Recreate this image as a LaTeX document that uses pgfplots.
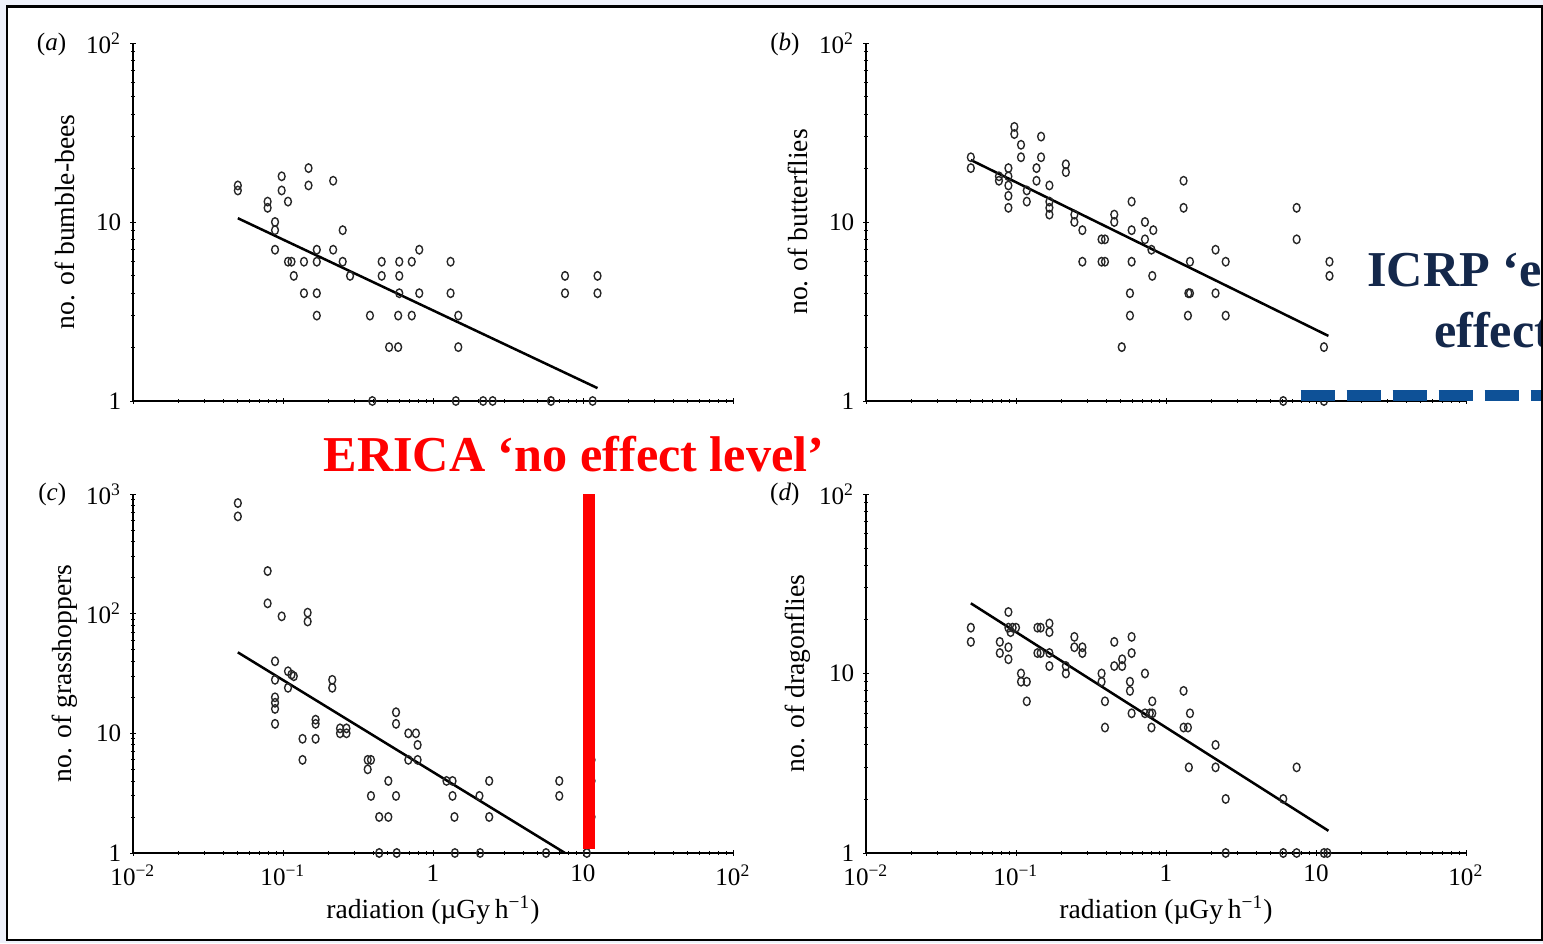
\documentclass[border=0pt]{standalone}
\usepackage{fontspec}
\setmainfont{Liberation Serif}
\usepackage{pgfplots}
\pgfplotsset{compat=1.18}
\definecolor{bgl}{RGB}{238,241,250}
\definecolor{icrpnavy}{RGB}{20,40,75}
\definecolor{icrpblue}{RGB}{14,81,151}
\pgfplotsset{
  mypanel/.style={
    scale only axis, width=8.4cm,
    xmin=0.01, xmax=100, ymin=1,
    axis lines=left, axis line style={-, black, line width=0.5pt},
    clip=false,
    tick style={black, line width=0.35pt},
    major tick length=0.08cm, minor tick length=0.045cm,
    tick align=center,
    xtick={0.01,0.1,1,10,100},
    ticklabel style={font=\fontsize{10}{12}\selectfont},
    label style={font=\fontsize{11}{13}\selectfont},
    ylabel style={at={(axis description cs:-0.114,0.5)}, anchor=center},
    xlabel style={at={(axis description cs:0.5,-0.159)}, anchor=center},
  },
}
\tikzset{
  mypts/.style={only marks, mark=o, mark size=1.7pt, mark options={xscale=0.8, black!85, line width=0.55pt}},
  myfit/.style={black, line width=1pt},
}
\begin{document}
\begin{tikzpicture}
\begin{scope}[x=0.014cm, y=0.014cm]
\fill[bgl] (0,0) rectangle (1543,943);
\draw[black, line width=0.04cm, fill=white] (7,3) rectangle (1542,936);
\end{scope}

% (a)
\begin{loglogaxis}[mypanel, at={(1.862cm,7.588cm)}, anchor=south west, height=5.012cm, ymax=100,
  xticklabels={,,,,}, ytick={1,10,100}, yticklabels={1,10,10\textsuperscript{2}},
  ylabel={no. of bumble-bees}]
\addplot[mypts] coordinates {(0.05,16)(0.05,15)(0.098,18)(0.148,20)(0.216,17)(0.098,15)(0.148,16)(0.079,13)(0.079,12)(0.108,13)(0.0885,10)(0.0885,9)(0.25,9)(0.0885,7)(0.168,7)(0.216,7)(0.81,7)(0.108,6)(0.114,6)(0.138,6)(0.168,6)(0.25,6)(0.455,6)(0.596,6)(0.722,6)(1.31,6)(0.118,5)(0.28,5)(0.455,5)(0.596,5)(7.59,5)(12.5,5)(0.138,4)(0.168,4)(0.596,4)(0.81,4)(1.31,4)(7.59,4)(12.5,4)(0.168,3)(0.38,3)(0.586,3)(0.722,3)(1.475,3)(0.51,2)(0.586,2)(1.475,2)
(0.394,1)(1.42,1)(2.16,1)(2.5,1)(6.12,1)(11.6,1)};
\addplot[myfit, no marks] coordinates {(0.05,10.5)(12.5,1.18)};
\end{loglogaxis}

% (b)
\begin{loglogaxis}[mypanel, at={(12.124cm,7.588cm)}, anchor=south west, height=5.012cm, ymax=100,
  xticklabels={,,,,}, ytick={1,10,100}, yticklabels={1,10,10\textsuperscript{2}},
  ylabel={no. of butterflies}]
\addplot[mypts] coordinates {(0.05,23)(0.05,20)(0.0975,34)(0.0975,31)(0.108,27)(0.108,23)(0.147,30)(0.147,23)(0.089,20)(0.089,18)(0.077,18)(0.077,17)(0.089,16)(0.089,14)(0.089,12)(0.137,20)(0.137,17)(0.118,15)(0.118,13)(0.167,16)(0.167,13)(0.167,12)(0.167,11)(0.215,21)(0.215,19)(0.245,11)(0.245,10)(0.277,9)(0.372,8)(0.392,8)(0.277,6)(0.372,6)(0.392,6)(0.452,11)(0.452,10)(0.59,13)(0.59,9)(0.59,6)(0.724,10)(0.724,8)(0.823,9)(0.80,7)(0.81,5)(0.575,4)(0.575,3)(0.507,2)(1.31,17)(1.31,12)(1.445,6)(1.41,4)(1.445,4)(1.40,3)(2.14,7)(2.14,4)(2.5,6)(2.5,3)(7.43,12)(7.43,8)(12.3,6)(12.3,5)(11.3,2)
(6.05,1)(11.3,1)};
\addplot[myfit, no marks] coordinates {(0.05,22.2)(12.1,2.31)};
\coordinate (db1) at (axis cs:7.9,1.08);
\coordinate (db2) at (axis cs:3000,1.08);
\end{loglogaxis}
\draw[icrpblue, line width=0.154cm, dash pattern=on 0.476cm off 0.168cm] (db1) -- (db2);

% (c)
\begin{loglogaxis}[mypanel, at={(1.862cm,1.26cm)}, anchor=south west, height=5.026cm, ymax=1000,
  xticklabels={10\textsuperscript{−2},10\textsuperscript{−1},1,10,10\textsuperscript{2}},
  ytick={1,10,100,1000}, yticklabels={1,10,10\textsuperscript{2},10\textsuperscript{3}},
  ylabel={no. of grasshoppers}, xlabel={radiation (µGy\,h\textsuperscript{−1})}]
\addplot[mypts] coordinates {(0.05,840)(0.05,650)(0.079,227)(0.079,122)(0.098,95)(0.146,102)(0.146,86)(0.0885,40)(0.0885,28)(0.0885,20)(0.0885,18)(0.0885,16)(0.0885,12)(0.108,33)(0.114,31)(0.118,30)(0.108,24)(0.213,28)(0.213,24)(0.165,13)(0.165,12)(0.135,9)(0.165,9)(0.135,6)(0.24,11)(0.24,10)(0.265,11)(0.265,10)(0.367,6)(0.386,6)(0.367,5)(0.386,3)(0.438,2)(0.504,2)(0.504,4)(0.567,15)(0.567,12)(0.567,3)(0.685,10)(0.77,10)(0.79,8)(0.685,6)(0.79,6)(1.23,4)(1.35,4)(1.35,3)(1.39,2)(2.04,3)(2.37,4)(2.37,2)(6.95,4)(6.95,3)(11.4,6)(11.4,4)(11.4,2)
(0.438,1)(0.573,1)(1.40,1)(2.06,1)(5.67,1)(10.6,1)};
\addplot[myfit, no marks] coordinates {(0.05,47.5)(7.59,1.0)};
\coordinate (rb1) at (axis cs:11,1.08);
\coordinate (rb2) at (axis cs:11,1000);
\end{loglogaxis}
\draw[red, line width=0.168cm] (rb1) -- (rb2);

% (d)
\begin{loglogaxis}[mypanel, at={(12.124cm,1.26cm)}, anchor=south west, height=5.026cm, ymax=100,
  xticklabels={10\textsuperscript{−2},10\textsuperscript{−1},1,10,10\textsuperscript{2}},
  ytick={1,10,100}, yticklabels={1,10,10\textsuperscript{2}},
  ylabel={no. of dragonflies}, xlabel={radiation (µGy\,h\textsuperscript{−1})}]
\addplot[mypts] coordinates {(0.05,18)(0.05,15)(0.089,22)(0.089,18)(0.095,18)(0.1,18)(0.092,17)(0.078,15)(0.078,13)(0.089,14)(0.089,12)(0.108,10)(0.108,9)(0.118,9)(0.118,7)(0.139,18)(0.146,18)(0.167,19)(0.167,17)(0.139,13)(0.146,13)(0.167,13)(0.167,11)(0.215,11)(0.215,10)(0.245,16)(0.245,14)(0.277,14)(0.277,13)(0.372,10)(0.372,9)(0.392,7)(0.392,5)(0.452,15)(0.452,11)(0.51,11)(0.51,12)(0.59,16)(0.59,13)(0.575,9)(0.575,8)(0.724,10)(0.59,6)(0.724,6)(0.78,6)(0.81,6)(0.81,7)(0.80,5)(1.31,8)(1.445,6)(1.31,5)(1.40,5)(1.42,3)(2.14,4)(2.14,3)(2.5,2)(6.05,2)(7.43,3)
(2.5,1)(6.05,1)(7.43,1)(11.3,1)(11.9,1)};
\addplot[myfit, no marks] coordinates {(0.05,24.6)(12.1,1.33)};
\end{loglogaxis}

\begin{scope}[x=0.014cm, y=0.014cm]
\node[anchor=east, font=\fontsize{10}{12}\selectfont] at (75,898) {(\textit{a})};
\node[anchor=east, font=\fontsize{10}{12}\selectfont] at (808,898) {(\textit{b})};
\node[anchor=east, font=\fontsize{10}{12}\selectfont] at (75,448) {(\textit{c})};
\node[anchor=east, font=\fontsize{10}{12}\selectfont] at (808,448) {(\textit{d})};
\node[anchor=base west, inner sep=0pt, text=red, font=\fontsize{20}{24}\selectfont\bfseries] at (323,471) {ERICA ‘no effect level’};
\node[anchor=base west, inner sep=0pt, text=icrpnavy, font=\fontsize{20}{24}\selectfont\bfseries] at (1366,656) {ICRP ‘environmental};
\node[anchor=base west, inner sep=0pt, text=icrpnavy, font=\fontsize{20}{24}\selectfont\bfseries] at (1433,595) {effects level’};
\draw[black, line width=0.04cm] (1542,3) -- (1542,936);
\end{scope}
\pgfresetboundingbox
\path[use as bounding box] (0,0) rectangle (21.602cm,13.202cm);
\end{tikzpicture}
\end{document}
